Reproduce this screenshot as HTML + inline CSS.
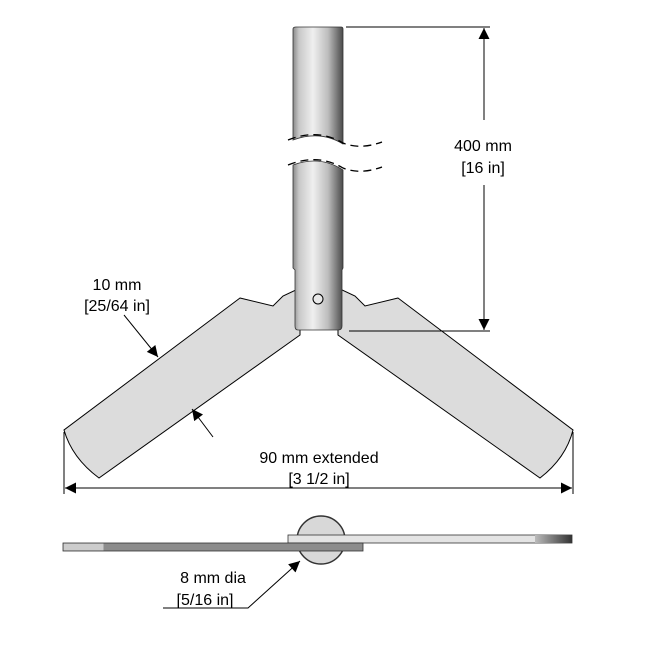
<!DOCTYPE html>
<html><head><style>body{margin:0;background:#fff}svg{display:block}</style></head><body>
<svg width="650" height="650" viewBox="0 0 650 650" xmlns="http://www.w3.org/2000/svg" font-family="Liberation Sans, sans-serif">
<defs>
<linearGradient id="p" x1="0" x2="1" y1="0" y2="0">
<stop offset="0" stop-color="#8a8a8a"/><stop offset="0.12" stop-color="#c8c8c8"/><stop offset="0.4" stop-color="#efefef"/><stop offset="0.7" stop-color="#bdbdbd"/><stop offset="1" stop-color="#4a4a4a"/>
</linearGradient>
<linearGradient id="e" x1="0" x2="1"><stop offset="0" stop-color="#bbb"/><stop offset="1" stop-color="#333"/></linearGradient>
<marker id="a" viewBox="0 0 10 10" refX="10" refY="5" markerWidth="20" markerHeight="11" markerUnits="userSpaceOnUse" orient="auto"><path d="M0,0L10,5L0,10z" fill="#000"/></marker>
</defs>
<path d="M240,298 L273,306 L283,296 L300,288 L300,335 L99,478 Q72,458 64,430 Z" fill="#dcdcdc" stroke="#000" stroke-width="1"/>
<path d="M398,298 L365,306 L355,296 L338,288 L338,335 L540,478 Q566,458 573,430 Z" fill="#dcdcdc" stroke="#000" stroke-width="1"/>
<path d="M293,29 Q293,27 296,27 L341,27 Q343,27 343,29 L343,144 Q320,130 293,140 Z" fill="url(#p)" stroke="#333" stroke-width="0.8"/>
<path d="M293,165 Q320,155 343,170 L343,268 L342,270 L342,326 Q342,330 338,330 L298,330 Q295,330 295,326 L295,270 L293,268 Z" fill="url(#p)" stroke="#333" stroke-width="0.8"/>
<path d="M288,140 Q318,128 343,143 Q360,150 382,142 M288,165 Q318,153 343,168 Q360,175 382,167" fill="none" stroke="#000" stroke-width="1.3" stroke-dasharray="8,5"/>
<circle cx="318" cy="299" r="5" fill="#e8e8e8" stroke="#000"/>
<line x1="346" y1="27" x2="490" y2="27" stroke="#000"/>
<line x1="349" y1="331" x2="490" y2="331" stroke="#000"/>
<line x1="484" y1="120" x2="484" y2="28" stroke="#000" marker-end="url(#a)"/>
<line x1="484" y1="185" x2="484" y2="330" stroke="#000" marker-end="url(#a)"/>
<text x="483" y="151" font-size="16" text-anchor="middle">400 mm</text>
<text x="483" y="173" font-size="16" text-anchor="middle">[16 in]</text>
<text x="117" y="290" font-size="16" text-anchor="middle">10 mm</text>
<text x="117" y="311" font-size="16" text-anchor="middle">[25/64 in]</text>
<line x1="124" y1="315" x2="158" y2="357" stroke="#000" marker-end="url(#a)"/>
<line x1="213" y1="437" x2="192" y2="409" stroke="#000" marker-end="url(#a)"/>
<line x1="64" y1="432" x2="64" y2="494" stroke="#000"/>
<line x1="573" y1="432" x2="573" y2="494" stroke="#000"/>
<line x1="300" y1="488" x2="65" y2="488" stroke="#000" marker-end="url(#a)"/>
<line x1="300" y1="488" x2="572" y2="488" stroke="#000" marker-end="url(#a)"/>
<text x="319" y="463" font-size="16" text-anchor="middle">90 mm extended</text>
<text x="319" y="484" font-size="16" text-anchor="middle">[3 1/2 in]</text>
<circle cx="321" cy="540" r="24" fill="#d8d8d8" stroke="#333" stroke-width="1.5"/>
<rect x="288" y="535" width="284" height="8" fill="#e4e4e4" stroke="#333" stroke-width="0.8"/>
<rect x="535" y="535" width="37" height="8" fill="url(#e)"/>
<rect x="63" y="543" width="300" height="8" fill="#8c8c8c" stroke="#333" stroke-width="0.8"/>
<rect x="63.5" y="543.5" width="40" height="7" fill="#ccc"/>
<polyline points="163,608 248,608 300,561" fill="none" stroke="#000" marker-end="url(#a)"/>
<text x="213" y="583" font-size="16" text-anchor="middle">8 mm dia</text>
<text x="205" y="605" font-size="16" text-anchor="middle">[5/16 in]</text>
</svg>
</body></html>
